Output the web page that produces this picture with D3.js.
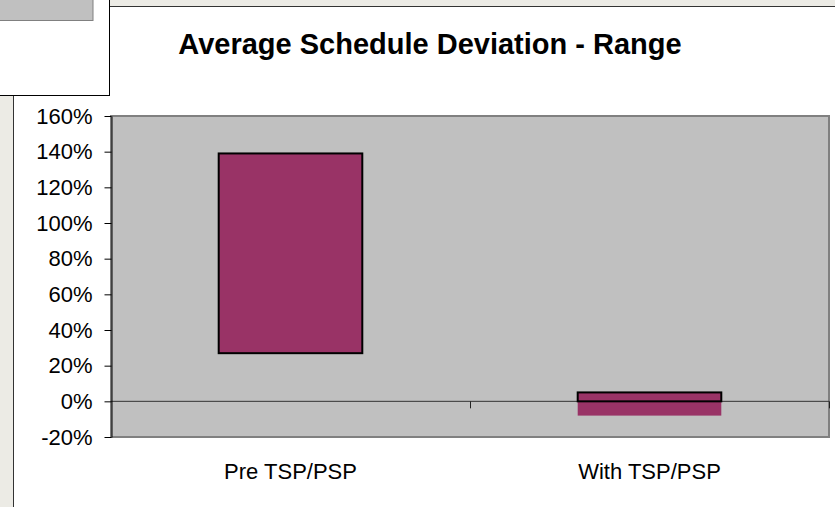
<!DOCTYPE html>
<html lang="en">

<head>
    <meta charset="UTF-8">
    <title>Average Schedule Deviation - Range</title>
    <script src="https://d3js.org/d3.v7.min.js"></script>
</head>
<style>
    body {
        margin: 0;
        background-color: #ecebe5;
        font-family: "Liberation Sans", Arial, sans-serif;
    }
</style>

<body>
    <div id="chart"></div>

    <script>
        // chart values
        const categories = ["Pre TSP/PSP", "With TSP/PSP"];
        const rangeLow = [0.27, -0.08];
        const rangeHigh = [1.39, 0.05];
        const yTicks = [-0.2, 0, 0.2, 0.4, 0.6, 0.8, 1.0, 1.2, 1.4, 1.6];
        const title = "Average Schedule Deviation - Range";

        const width = 835,
            height = 507;
        const plot = { left: 111, right: 829, top: 116, bottom: 437 };

        const svg = d3.select("#chart")
            .append("svg")
            .attr("width", width)
            .attr("height", height)
            .style("display", "block");

        // window frame bits around the chart
        svg.append("rect").attr("x", 13).attr("y", 6).attr("width", width - 13).attr("height", height - 6)
            .attr("fill", "#fff");
        svg.append("line").attr("x1", 0).attr("x2", width).attr("y1", 6.5).attr("y2", 6.5)
            .attr("stroke", "#333");
        svg.append("line").attr("x1", 13.5).attr("x2", 13.5).attr("y1", 6).attr("y2", height)
            .attr("stroke", "#333");
        svg.append("rect").attr("x", -1).attr("y", -1).attr("width", 110.5).attr("height", 96.5)
            .attr("fill", "#fff").attr("stroke", "#000");
        svg.append("rect").attr("x", -1).attr("y", -1).attr("width", 94).attr("height", 21.5)
            .attr("fill", "#c0c0c0").attr("stroke", "#808080");

        // scales
        const y = d3.scaleLinear()
            .domain([-0.2, 1.6])
            .range([plot.bottom, plot.top]);

        const xCat = d3.scaleBand()
            .domain(categories)
            .range([plot.left, plot.right])
            .padding(0);

        const xBar = d3.scaleBand()
            .domain(categories)
            .range([plot.left, plot.right])
            .paddingInner(0.6)
            .paddingOuter(0.3);

        // plot area
        svg.append("rect")
            .attr("x", plot.left)
            .attr("y", plot.top)
            .attr("width", plot.right - plot.left)
            .attr("height", plot.bottom - plot.top)
            .attr("fill", "#c0c0c0")
            .attr("stroke", "#808080")
            .attr("stroke-width", 2);

        // zero line (category axis)
        svg.append("line")
            .attr("x1", plot.left)
            .attr("x2", plot.right)
            .attr("y1", y(0))
            .attr("y2", y(0))
            .attr("stroke", "#333");

        // tick marks between categories
        const boundaries = categories.map(c => xCat(c) + xCat.bandwidth());
        svg.selectAll(".cat-tick")
            .data(boundaries)
            .enter()
            .append("line")
            .attr("x1", d => Math.round(d) + 0.5)
            .attr("x2", d => Math.round(d) + 0.5)
            .attr("y1", y(0))
            .attr("y2", y(0) + 7)
            .attr("stroke", "#222");

        // bars: filled range, border above the zero line
        const bars = categories.map((c, i) => ({ cat: c, low: rangeLow[i], high: rangeHigh[i] }));

        svg.selectAll(".bar")
            .data(bars)
            .enter()
            .append("rect")
            .attr("x", d => xBar(d.cat))
            .attr("y", d => y(d.high))
            .attr("width", xBar.bandwidth())
            .attr("height", d => y(d.low) - y(d.high))
            .attr("fill", "#993366");

        svg.selectAll(".bar-edge")
            .data(bars)
            .enter()
            .append("rect")
            .attr("x", d => xBar(d.cat))
            .attr("y", d => y(d.high))
            .attr("width", xBar.bandwidth())
            .attr("height", d => y(Math.max(0, d.low)) - y(d.high))
            .attr("fill", "none")
            .attr("stroke", "#000")
            .attr("stroke-width", 2);

        // value axis
        const pct = d => Math.round(d * 100) + "%";
        const yAxis = svg.append("g")
            .attr("transform", "translate(" + (plot.left + 0.5) + ",0)")
            .call(d3.axisLeft(y)
                .tickValues(yTicks)
                .tickFormat(pct)
                .tickSize(7)
                .tickSizeOuter(0));
        yAxis.select(".domain").attr("stroke", "#000");
        yAxis.selectAll(".tick line").attr("stroke", "#000");
        yAxis.selectAll("text")
            .attr("x", -19)
            .style("font-family", "'Liberation Sans', Arial, sans-serif")
            .style("font-size", "22px")
            .attr("fill", "#000");

        // category labels
        svg.selectAll(".cat-label")
            .data(categories)
            .enter()
            .append("text")
            .attr("x", d => xCat(d) + xCat.bandwidth() / 2)
            .attr("y", 479)
            .attr("text-anchor", "middle")
            .style("font-size", "22px")
            .text(d => d);

        // title
        svg.append("text")
            .attr("x", 430)
            .attr("y", 54)
            .attr("text-anchor", "middle")
            .style("font-size", "29px")
            .style("font-weight", "bold")
            .text(title);
    </script>
</body>

</html>
